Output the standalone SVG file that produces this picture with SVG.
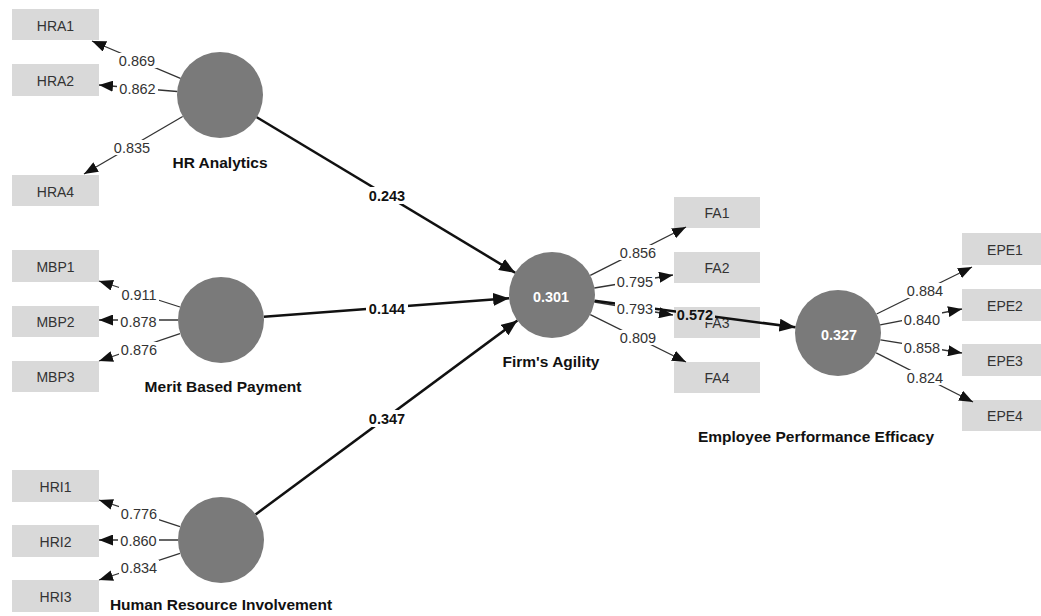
<svg xmlns="http://www.w3.org/2000/svg" width="1041" height="616" viewBox="0 0 1041 616">
<defs>
<style>
.ind rect{fill:#d9d9d9}
.ind text{font-family:"Liberation Sans",Arial,sans-serif;font-size:14px;fill:#333;text-anchor:middle}
.lv circle{fill:#7a7a7a}
.lv .r2{font-family:"Liberation Sans",Arial,sans-serif;font-size:14.4px;font-weight:bold;fill:#fff;text-anchor:middle}
.lv .nm{font-family:"Liberation Sans",Arial,sans-serif;font-size:15.5px;font-weight:bold;fill:#111;text-anchor:middle}
.ld{stroke:#333;stroke-width:1.3;fill:none;marker-end:url(#ah)}
.pt{stroke:#111;stroke-width:2.5;fill:none;marker-end:url(#ahb)}
.bg{fill:#fff}
.lt{font-family:"Liberation Sans",Arial,sans-serif;font-size:14.5px;fill:#333;text-anchor:middle}
.pl{font-family:"Liberation Sans",Arial,sans-serif;font-size:14.5px;font-weight:bold;fill:#111;text-anchor:middle}
</style>
<marker id="ah" markerUnits="userSpaceOnUse" markerWidth="14" markerHeight="11" refX="14" refY="5.5" orient="auto"><path d="M0,0 L14,5.5 L0,11 z" fill="#111"/></marker>
<marker id="ahb" markerUnits="userSpaceOnUse" markerWidth="16" markerHeight="13" refX="16" refY="6.5" orient="auto"><path d="M0,0 L16,6.5 L0,13 z" fill="#111"/></marker>
</defs>
<rect width="1041" height="616" fill="#fff"/>

<g id="HRA1" class="ind"><rect x="12" y="9" width="87" height="31"/><text x="55.5" y="31">HRA1</text></g>
<g id="HRA2" class="ind"><rect x="12" y="64" width="87" height="32"/><text x="55.5" y="86">HRA2</text></g>
<g id="HRA4" class="ind"><rect x="12" y="175" width="87" height="31"/><text x="55.5" y="197">HRA4</text></g>
<g id="MBP1" class="ind"><rect x="12" y="250" width="87" height="32"/><text x="55.5" y="272">MBP1</text></g>
<g id="MBP2" class="ind"><rect x="12" y="306" width="87" height="31"/><text x="55.5" y="327">MBP2</text></g>
<g id="MBP3" class="ind"><rect x="12" y="361" width="87" height="31"/><text x="55.5" y="382">MBP3</text></g>
<g id="HRI1" class="ind"><rect x="12" y="470" width="87" height="32"/><text x="55.5" y="492">HRI1</text></g>
<g id="HRI2" class="ind"><rect x="12" y="525" width="87" height="32"/><text x="55.5" y="547">HRI2</text></g>
<g id="HRI3" class="ind"><rect x="12" y="580" width="87" height="32"/><text x="55.5" y="602">HRI3</text></g>
<g id="FA1" class="ind"><rect x="674" y="197" width="86" height="31"/><text x="717" y="218">FA1</text></g>
<g id="FA2" class="ind"><rect x="674" y="252" width="86" height="31"/><text x="717" y="273">FA2</text></g>
<g id="FA3" class="ind"><rect x="674" y="307" width="86" height="31"/><text x="717" y="328">FA3</text></g>
<g id="FA4" class="ind"><rect x="674" y="362" width="86" height="31"/><text x="717" y="383">FA4</text></g>
<g id="EPE1" class="ind"><rect x="962" y="233" width="86" height="32"/><text x="1005" y="255">EPE1</text></g>
<g id="EPE2" class="ind"><rect x="962" y="289" width="86" height="32"/><text x="1005" y="311">EPE2</text></g>
<g id="EPE3" class="ind"><rect x="962" y="344" width="86" height="32"/><text x="1005" y="366">EPE3</text></g>
<g id="EPE4" class="ind"><rect x="962" y="400" width="86" height="31"/><text x="1005" y="421">EPE4</text></g>

<g id="HRAnalytics" class="lv"><circle cx="220" cy="95" r="43"/><text class="nm" x="220" y="168">HR Analytics</text></g>
<g id="MeritBasedPayment" class="lv"><circle cx="221" cy="320" r="43"/><text class="nm" x="223" y="392">Merit Based Payment</text></g>
<g id="HumanResourceInvolvement" class="lv"><circle cx="221" cy="540" r="43"/><text class="nm" x="221" y="610">Human Resource Involvement</text></g>
<g id="FirmsAgility" class="lv"><circle cx="552" cy="295" r="43"/><text class="r2" x="551" y="302">0.301</text><text class="nm" x="551" y="367">Firm's Agility</text></g>
<g id="EPE" class="lv"><circle cx="838" cy="333" r="43"/><text class="r2" x="839" y="340">0.327</text><text class="nm" x="816" y="442">Employee Performance Efficacy</text></g>

<g id="connectors">
<line class="ld" x1="180.4" y1="78.3" x2="92" y2="41"/>
<line class="ld" x1="177.2" y1="91.5" x2="99" y2="85"/>
<line class="ld" x1="182.7" y1="116.5" x2="84" y2="174"/>
<line class="ld" x1="180" y1="307" x2="99" y2="281"/>
<line class="ld" x1="178" y1="320" x2="99" y2="320"/>
<line class="ld" x1="180" y1="333.7" x2="99" y2="361"/>
<line class="ld" x1="180" y1="526.6" x2="99" y2="500"/>
<line class="ld" x1="178" y1="540" x2="99" y2="540"/>
<line class="ld" x1="180" y1="553.4" x2="99" y2="580"/>
<line class="ld" x1="590.3" y1="275.4" x2="686" y2="227"/>
<line class="ld" x1="594.4" y1="288" x2="673" y2="275"/>
<line class="ld" x1="594.4" y1="302" x2="673" y2="315"/>
<line class="ld" x1="590.3" y1="314.6" x2="686" y2="362"/>
<line class="ld" x1="876.6" y1="314" x2="972" y2="267"/>
<line class="ld" x1="880.2" y1="324.8" x2="962" y2="309"/>
<line class="ld" x1="880.5" y1="339.9" x2="962" y2="353"/>
<line class="ld" x1="876.2" y1="352.8" x2="973" y2="402"/>
<line class="pt" x1="256.8" y1="117.2" x2="515.2" y2="272.8"/>
<line class="pt" x1="263.9" y1="316.8" x2="509.1" y2="298.2"/>
<line class="pt" x1="255.6" y1="514.4" x2="517.4" y2="320.6"/>
<line class="pt" x1="594.6" y1="300.7" x2="795.4" y2="327.3"/>

<rect class="bg" x="117" y="53" width="40" height="15"/><text class="lt" x="137" y="66">0.869</text>
<rect class="bg" x="117" y="81" width="41" height="15"/><text class="lt" x="137.5" y="94">0.862</text>
<rect class="bg" x="112" y="140" width="40" height="15"/><text class="lt" x="132" y="153">0.835</text>
<rect class="bg" x="119" y="287" width="40" height="15"/><text class="lt" x="139" y="300">0.911</text>
<rect class="bg" x="118" y="314" width="41" height="15"/><text class="lt" x="138.5" y="327">0.878</text>
<rect class="bg" x="119" y="342" width="40" height="15"/><text class="lt" x="139" y="355">0.876</text>
<rect class="bg" x="119" y="506" width="40" height="15"/><text class="lt" x="139" y="519">0.776</text>
<rect class="bg" x="118" y="533" width="41" height="15"/><text class="lt" x="138.5" y="546">0.860</text>
<rect class="bg" x="119" y="560" width="40" height="15"/><text class="lt" x="139" y="573">0.834</text>
<rect class="bg" x="618" y="245" width="40" height="15"/><text class="lt" x="638" y="258">0.856</text>
<rect class="bg" x="615" y="274" width="40" height="15"/><text class="lt" x="635" y="287">0.795</text>
<rect class="bg" x="615" y="301" width="40" height="15"/><text class="lt" x="635" y="314">0.793</text>
<rect class="bg" x="618" y="330" width="40" height="15"/><text class="lt" x="638" y="343">0.809</text>
<rect class="bg" x="905" y="283" width="40" height="15"/><text class="lt" x="925" y="296">0.884</text>
<rect class="bg" x="902" y="312" width="40" height="15"/><text class="lt" x="922" y="325">0.840</text>
<rect class="bg" x="902" y="340" width="40" height="15"/><text class="lt" x="922" y="353">0.858</text>
<rect class="bg" x="905" y="370" width="40" height="15"/><text class="lt" x="925" y="383">0.824</text>
<rect class="bg" x="366" y="187" width="42" height="17"/><text class="pl" x="387" y="201">0.243</text>
<rect class="bg" x="366" y="300" width="42" height="17"/><text class="pl" x="387" y="314">0.144</text>
<rect class="bg" x="366" y="410" width="42" height="17"/><text class="pl" x="387" y="424">0.347</text>
<rect x="676" y="307" width="39" height="15" fill="#d9d9d9"/><text class="pl" x="695" y="320">0.572</text>
</g>
</svg>
